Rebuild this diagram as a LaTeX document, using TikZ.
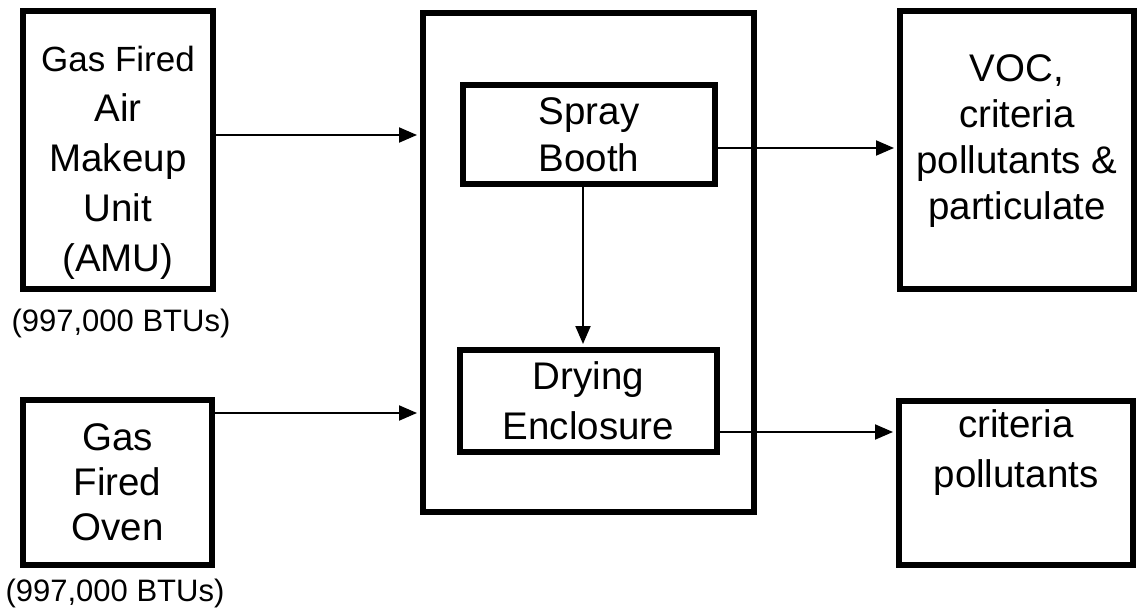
\documentclass[tikz,border=0pt]{standalone}
\usepackage{fontspec}
\setmainfont{Liberation Sans}
\usetikzlibrary{arrows.meta,positioning}

\begin{document}
\begin{tikzpicture}[x=1pt,y=-1pt,
    unit/.style={draw, line width=6pt, align=center, inner sep=0pt,
                 font=\fontsize{38.5}{50}\selectfont},
    flow/.style={-{Triangle[length=18pt,width=15pt]}, line width=2pt, shorten >=3pt},
    rating/.style={font=\fontsize{31}{36}\selectfont, inner sep=0pt},
  ]
    \useasboundingbox (0,0) rectangle (1141,616);
    % sources
    \node[unit, minimum width=190pt, minimum height=278pt, text height=251pt] (amu) at (118,150)
      {{\fontsize{35}{50}\selectfont Gas Fired}\\Air\\Makeup\\Unit\\(AMU)};
    \node[rating] (amurate) at (121,323) {(997,000 BTUs)};
    \node[unit, minimum width=189pt, minimum height=165pt,
          font=\fontsize{38.5}{45}\selectfont] (oven) at (117.5,482.5)
      {Gas\\Fired\\Oven};
    \node[rating] (ovenrate) at (115,593) {(997,000 BTUs)};
    % paint line
    \node[unit, minimum width=331pt, minimum height=499pt] (paint) at (588.5,262.5) {};
    \node[unit, minimum width=252pt, minimum height=99pt,
          font=\fontsize{38.5}{47}\selectfont] (spray) at (589,134.5) {Spray\\Booth};
    \node[unit, minimum width=257pt, minimum height=102pt] (dryer) at (588.5,401) {Drying\\Enclosure};
    % emissions
    \node[unit, minimum width=234pt, minimum height=278pt, text depth=26pt,
          font=\fontsize{38.5}{46}\selectfont] (voc) at (1017,150)
      {VOC,\\criteria\\pollutants \&\\particulate};
    \node[unit, minimum width=234pt, minimum height=164pt, text depth=68pt] (crit) at (1016,483)
      {criteria\\pollutants};
    \draw[flow] ([yshift=15pt]amu.east) -- ([yshift=15pt]amu.east -| paint.west);
    \draw[flow] ([yshift=69.5pt]oven.east) -- ([yshift=69.5pt]oven.east -| paint.west);
    \draw[flow] ([xshift=-6pt]spray.south) -- ([xshift=-6pt]spray.south |- dryer.north);
    \draw[flow] ([yshift=-13.5pt]spray.east) -- ([yshift=-13.5pt]spray.east -| voc.west);
    \draw[flow] ([yshift=-31pt]dryer.east) -- ([yshift=-31pt]dryer.east -| crit.west);
  \end{tikzpicture}
\end{document}
